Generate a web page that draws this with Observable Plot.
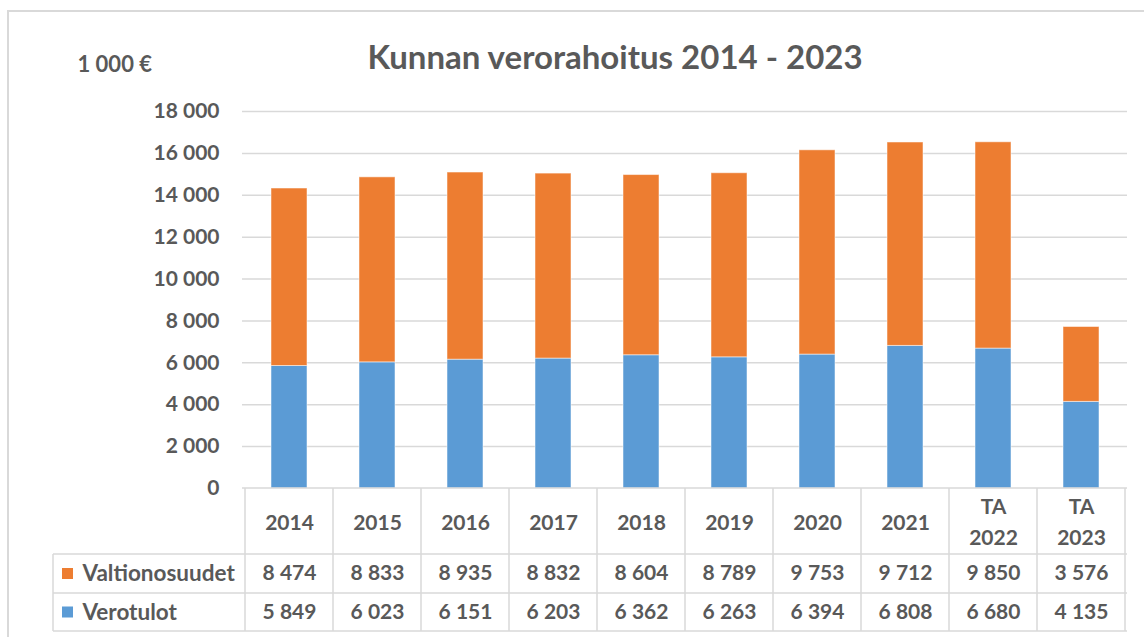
<!DOCTYPE html>
<html><head><meta charset="utf-8">
<script src="https://cdn.jsdelivr.net/npm/d3@7"></script>
<script src="https://cdn.jsdelivr.net/npm/@observablehq/plot@0.6"></script>
<style>body{margin:0;background:#fff;} svg{display:block;}</style>
</head><body><div id="chart"></div>
<script>
const categories = ["2014","2015","2016","2017","2018","2019","2020","2021","TA\n2022","TA\n2023"];
const valtionosuudet = [8474,8833,8935,8832,8604,8789,9753,9712,9850,3576];
const verotulot = [5849,6023,6151,6203,6362,6263,6394,6808,6680,4135];
const seriesNames = ["Valtionosuudet","Verotulot"];
const seriesColors = ["#ED7D31","#5B9BD5"];
const yTicks = [0,2000,4000,6000,8000,10000,12000,14000,16000,18000];
const titleText = "Kunnan verorahoitus 2014 - 2023";
const unitText = "1 000 €";

const FONT = "Lato, 'Open Sans', sans-serif";
const TXT = "#595959";
const GRIDC = "#d9d9d9";
const fmt = d3.formatLocale({thousands:" ", grouping:[3], decimal:",", currency:["","€"]}).format(",d");

// stacked rows: Verotulot at the bottom
const rows = [];
categories.forEach((c,i)=>{
  rows.push({cat:c, series:"Verotulot", value:verotulot[i]});
  rows.push({cat:c, series:"Valtionosuudet", value:valtionosuudet[i]});
});
const tableRows = categories.map((c,i)=>({cat:c, v1:valtionosuudet[i], v2:verotulot[i]}));

function tableGrid(index, scales, values, dims) {
  const x = scales.x;
  const step = x(categories[1]) - x(categories[0]);
  const x0 = dims.marginLeft, x1 = dims.width - dims.marginRight;
  const yTop = dims.height - dims.marginBottom;
  const r = [yTop + 66, yTop + 105, yTop + 143];
  const labelLeft = 53;
  const g = d3.create("svg:g");
  const lines = g.append("g").attr("stroke", GRIDC).attr("stroke-width", 1.5).attr("fill","none");
  // outer chart border
  lines.append("path").attr("stroke-width",2).attr("d", `M8,${dims.height}V11H${dims.width}`);
  // table top line
  lines.append("line").attr("x1",x0).attr("x2",x1).attr("y1",yTop).attr("y2",yTop);
  for (let i = 0; i <= categories.length; i++) {
    const xx = i < categories.length ? x(categories[i]) : x(categories[categories.length-1]) + step;
    lines.append("line").attr("x1",xx).attr("x2",xx).attr("y1",yTop).attr("y2",r[2]);
  }
  r.forEach(yy => lines.append("line").attr("x1",labelLeft).attr("x2",x1).attr("y1",yy).attr("y2",yy));
  lines.append("line").attr("x1",labelLeft).attr("x2",labelLeft).attr("y1",r[0]).attr("y2",r[2]);
  // legend keys
  const centers = [(r[0]+r[1])/2, (r[1]+r[2])/2];
  seriesNames.forEach((s,i)=>{
    g.append("rect").attr("x",62).attr("y",centers[i]-5.5).attr("width",11).attr("height",11).attr("fill",seriesColors[i]);
  });
  return g.node();
}

const txt = {fontSize: 21, fontWeight: "bold", fill: TXT, lineAnchor: "middle"};

const chart = Plot.plot({
  width: 1144,
  height: 637,
  marginLeft: 242,
  marginRight: 17,
  marginTop: 111,
  marginBottom: 149,
  style: {fontFamily: FONT, background: "#fff", color: TXT},
  x: {domain: categories, padding: 0, axis: null},
  y: {domain: [0, 18000], axis: null},
  color: {domain: seriesNames, range: seriesColors},
  marks: [
    Plot.gridY(yTicks.filter(d=>d>0), {stroke: GRIDC, strokeOpacity: 1, strokeWidth: 1.5}),
    Plot.barY(rows, {x: "cat", y: "value", fill: "series", insetLeft: 26, insetRight: 26, stroke: "#fff", strokeOpacity: 0.5, strokeWidth: 1}),
    Plot.axisY(yTicks, {tickSize: 0, tickPadding: 23, tickFormat: fmt, fontSize: 21, fontWeight: "bold", fill: TXT, label: null}),
    tableGrid,
    Plot.text(categories, {...txt, x: d=>d, text: d=>d, frameAnchor: "bottom", dy: 31, lineHeight: 1.5}),
    Plot.text(tableRows, {...txt, x: "cat", text: d=>fmt(d.v1), frameAnchor: "bottom", dy: 85}),
    Plot.text(tableRows, {...txt, x: "cat", text: d=>fmt(d.v2), frameAnchor: "bottom", dy: 124}),
    Plot.text([seriesNames[0]], {...txt, text: d=>d, frameAnchor: "bottom-left", dx: -160, dy: 85, textAnchor: "start", fontSize: 22.5}),
    Plot.text([seriesNames[1]], {...txt, text: d=>d, frameAnchor: "bottom-left", dx: -160, dy: 124, textAnchor: "start", fontSize: 22.5}),
    Plot.text([titleText], {...txt, text: d=>d, frameAnchor: "top", dx: -70, dy: -53, fontSize: 33}),
    Plot.text([unitText], {...txt, text: d=>d, frameAnchor: "top-left", dx: -165, dy: -47, textAnchor: "start", fontSize: 22})
  ]
});
document.getElementById("chart").append(chart);
</script>
</body></html>
